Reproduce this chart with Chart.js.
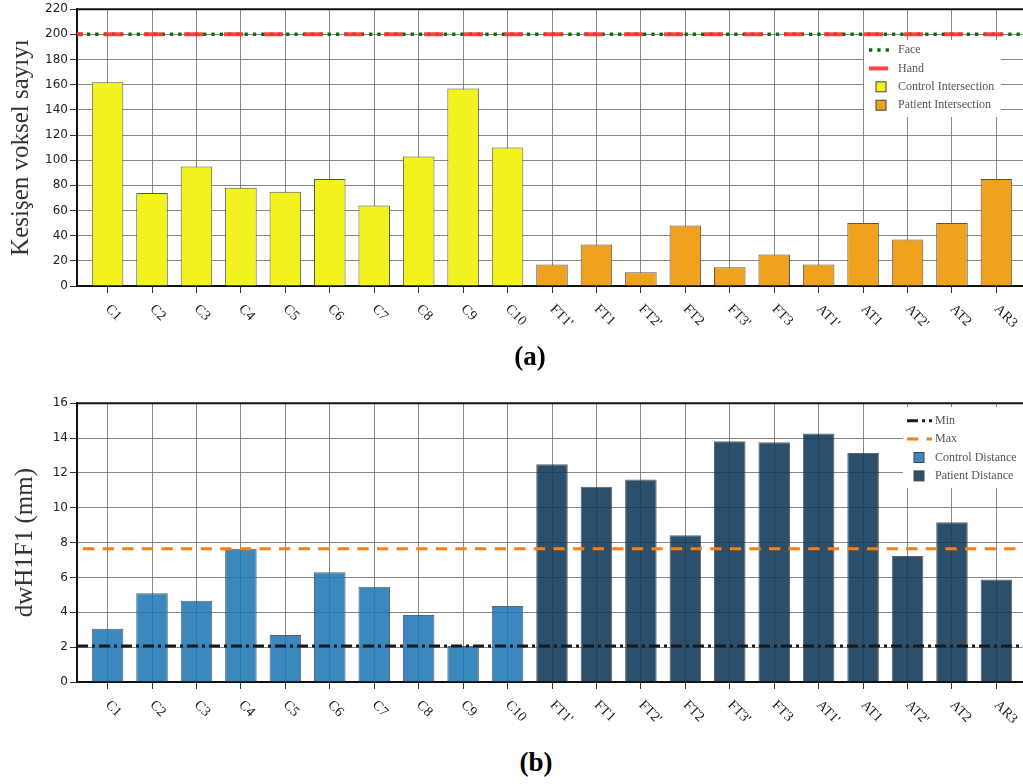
<!DOCTYPE html>
<html>
<head>
<meta charset="utf-8">
<script src="https://cdn.jsdelivr.net/npm/chart.js@4.4.1/dist/chart.umd.min.js"></script>
<style>
html, body { margin: 0; padding: 0; background: #fff; overflow: hidden; width: 1023px; height: 784px; }
.box { position: absolute; left: 0; width: 1040px; height: 345px; }
#boxA { top: 0; }
#boxB { top: 390px; }
.tag { position: absolute; width: 100px; text-align: center; line-height: 32px;
       font: bold 27px "Liberation Serif", serif; color: #000; }
</style>
</head>
<body>
<div id="boxA" class="box"><canvas id="chartA" width="1040" height="345"></canvas></div>
<div id="boxB" class="box"><canvas id="chartB" width="1040" height="345"></canvas></div>
<div class="tag" style="left:480px; top:341px">(a)</div>
<div class="tag" style="left:486px; top:747px">(b)</div>

<script>
// subjects on the x axis
const subjects = ['C1', 'C2', 'C3', 'C4', 'C5', 'C6', 'C7', 'C8', 'C9', 'C10',
    "FT1'", 'FT1', "FT2'", 'FT2', "FT3'", 'FT3', "AT1'", 'AT1', "AT2'", 'AT2', 'AR3'];

// (a) intersecting voxel counts
const controlCount = [162, 74, 95, 78, 75, 85, 64, 103, 157, 110];
const patientCount = [17, 33, 11, 48, 15, 25, 17, 50, 37, 50, 85];
const faceLevel = 200;
const handLevel = 200;

// (b) dwH1F1 distances (mm)
const controlDist = [3.05, 5.09, 4.67, 7.65, 2.70, 6.30, 5.47, 3.85, 2.07, 4.36];
const patientDist = [12.50, 11.21, 11.63, 8.42, 13.82, 13.76, 14.26, 13.15, 7.23, 9.17, 5.89];
const minDist = 2.07;
const maxDist = 7.65;

const xLo = -0.688, xHi = 20.688;
const gridColor = 'rgba(105,105,105,0.8)';

function bars(values, start) {
    return values.map((v, i) => ({ x: start + i, y: v }));
}
function hline(level) {
    return [{ x: xLo, y: level }, { x: xHi, y: level }];
}

const extras = {
    id: 'extras',
    afterDraw(chart, args, opts) {
        const ctx = chart.ctx, area = chart.chartArea, xs = chart.scales.x;
        ctx.save();
        // top spine
        ctx.strokeStyle = '#111';
        ctx.lineWidth = 2;
        ctx.beginPath();
        ctx.moveTo(area.left - 1, area.top);
        ctx.lineTo(area.right, area.top);
        ctx.stroke();

        // rotated tick labels
        ctx.fillStyle = '#1a1a1a';
        ctx.font = '14px "Liberation Serif", serif';
        ctx.textAlign = 'left';
        ctx.textBaseline = 'middle';
        subjects.forEach((s, i) => {
            ctx.save();
            ctx.translate(xs.getPixelForValue(i), area.bottom + 21);
            ctx.rotate(Math.PI / 4);
            ctx.fillText(s, 0, 0);
            ctx.restore();
        });

        // legend
        const lg = opts.legend;
        ctx.fillStyle = '#fff';
        ctx.fillRect(lg.x, lg.y, lg.w, lg.h);
        ctx.font = '12px "Liberation Serif", serif';
        chart.data.datasets.forEach((ds, i) => {
            const ty = lg.top + i * lg.step;
            if (ds.type === 'line') {
                ctx.strokeStyle = ds.borderColor;
                ctx.lineWidth = ds.borderWidth;
                ctx.setLineDash(ds.borderDash || []);
                ctx.lineDashOffset = 0;
                ctx.beginPath();
                ctx.moveTo(lg.hx0, ty);
                ctx.lineTo(lg.hx1, ty);
                ctx.stroke();
                ctx.setLineDash([]);
            } else {
                ctx.fillStyle = ds.backgroundColor;
                ctx.fillRect(lg.sx - 5, ty - 5, 10, 10);
                ctx.strokeStyle = '#444';
                ctx.lineWidth = 1;
                ctx.strokeRect(lg.sx - 5, ty - 5, 10, 10);
            }
            ctx.fillStyle = '#555';
            ctx.fillText(ds.label, lg.tx, ty);
        });
        ctx.restore();
    }
};

function xAxis(h) {
    return {
        type: 'linear', min: xLo, max: xHi, offset: false,
        afterBuildTicks: s => { s.ticks = subjects.map((_, i) => ({ value: i })); },
        ticks: { display: false },
        grid: { offset: false, color: gridColor, lineWidth: 1, tickLength: 7, tickColor: '#333' },
        border: { color: '#111', width: 2 },
        afterFit: s => { s.height = h; }
    };
}
function yAxis(max, step, title, pad) {
    return {
        min: 0, max: max,
        ticks: { stepSize: step, color: '#222', padding: 2, font: { family: 'DejaVu Sans', size: 12 } },
        grid: { color: gridColor, lineWidth: 1, tickLength: 7, tickColor: '#333' },
        border: { color: '#111', width: 2 },
        title: { display: true, text: title, color: '#333', padding: { top: pad, bottom: 0 },
                 font: { family: 'Liberation Serif', size: 25, lineHeight: 1.2 } },
        afterFit: s => { s.width = 77; }
    };
}

new Chart(document.getElementById('chartA'), {
    type: 'bar',
    data: {
        datasets: [
            { type: 'line', label: 'Face', data: hline(faceLevel), borderColor: '#0a6e0a', borderWidth: 3.5,
              borderDash: [3.3, 5], borderDashOffset: -1.6, pointRadius: 0, order: 1 },
            { type: 'line', label: 'Hand', data: hline(handLevel), borderColor: 'rgba(255,50,50,0.9)', borderWidth: 4,
              borderDash: [19, 21], borderDashOffset: 13, pointRadius: 0, order: 0 },
            { label: 'Control Intersection', data: bars(controlCount, 0), backgroundColor: '#f2f21e',
              borderColor: '#555', borderWidth: 1, grouped: false, order: 2 },
            { label: 'Patient Intersection', data: bars(patientCount, 10), backgroundColor: '#f0a11e',
              borderColor: '#555', borderWidth: 1, grouped: false, order: 2 }
        ]
    },
    options: {
        responsive: false, animation: false, devicePixelRatio: 1,
        barPercentage: 0.71, categoryPercentage: 1,
        layout: { padding: { top: 7, right: 13, left: 0, bottom: 0 } },
        plugins: {
            legend: { display: false }, tooltip: { enabled: false },
            extras: { legend: { x: 864, y: 40, w: 137, h: 77, top: 50, step: 18.4, hx0: 869, hx1: 889, sx: 881, tx: 898 } }
        },
        scales: { x: xAxis(59), y: yAxis(220, 20, 'Kesişen voksel sayıyı', 6) }
    },
    plugins: [extras]
});

new Chart(document.getElementById('chartB'), {
    type: 'bar',
    data: {
        datasets: [
            { type: 'line', label: 'Min', data: hline(minDist), borderColor: '#1a1a1a', borderWidth: 3,
              borderDash: [11, 4, 3, 4], pointRadius: 0, order: 0 },
            { type: 'line', label: 'Max', data: hline(maxDist), borderColor: '#ff7f0e', borderWidth: 3,
              borderDash: [11.3, 8.3], borderDashOffset: 13.6, pointRadius: 0, order: 1 },
            { label: 'Control Distance', data: bars(controlDist, 0), backgroundColor: 'rgba(31,119,180,0.88)',
              borderColor: 'rgba(60,60,60,0.8)', borderWidth: 1, grouped: false, order: 2 },
            { label: 'Patient Distance', data: bars(patientDist, 10), backgroundColor: 'rgba(21,61,91,0.9)',
              borderColor: 'rgba(60,60,60,0.8)', borderWidth: 1, grouped: false, order: 2 }
        ]
    },
    options: {
        responsive: false, animation: false, devicePixelRatio: 1,
        barPercentage: 0.71, categoryPercentage: 1,
        layout: { padding: { top: 13.3, right: 13, left: 0, bottom: 0 } },
        plugins: {
            legend: { display: false }, tooltip: { enabled: false },
            extras: { legend: { x: 903, y: 17, w: 137, h: 81, top: 30.7, step: 18.4, hx0: 907, hx1: 932, sx: 919, tx: 935 } }
        },
        scales: { x: xAxis(53), y: yAxis(16, 2, 'dwH1F1 (mm)', 10) }
    },
    plugins: [extras]
});
</script>
</body>
</html>
